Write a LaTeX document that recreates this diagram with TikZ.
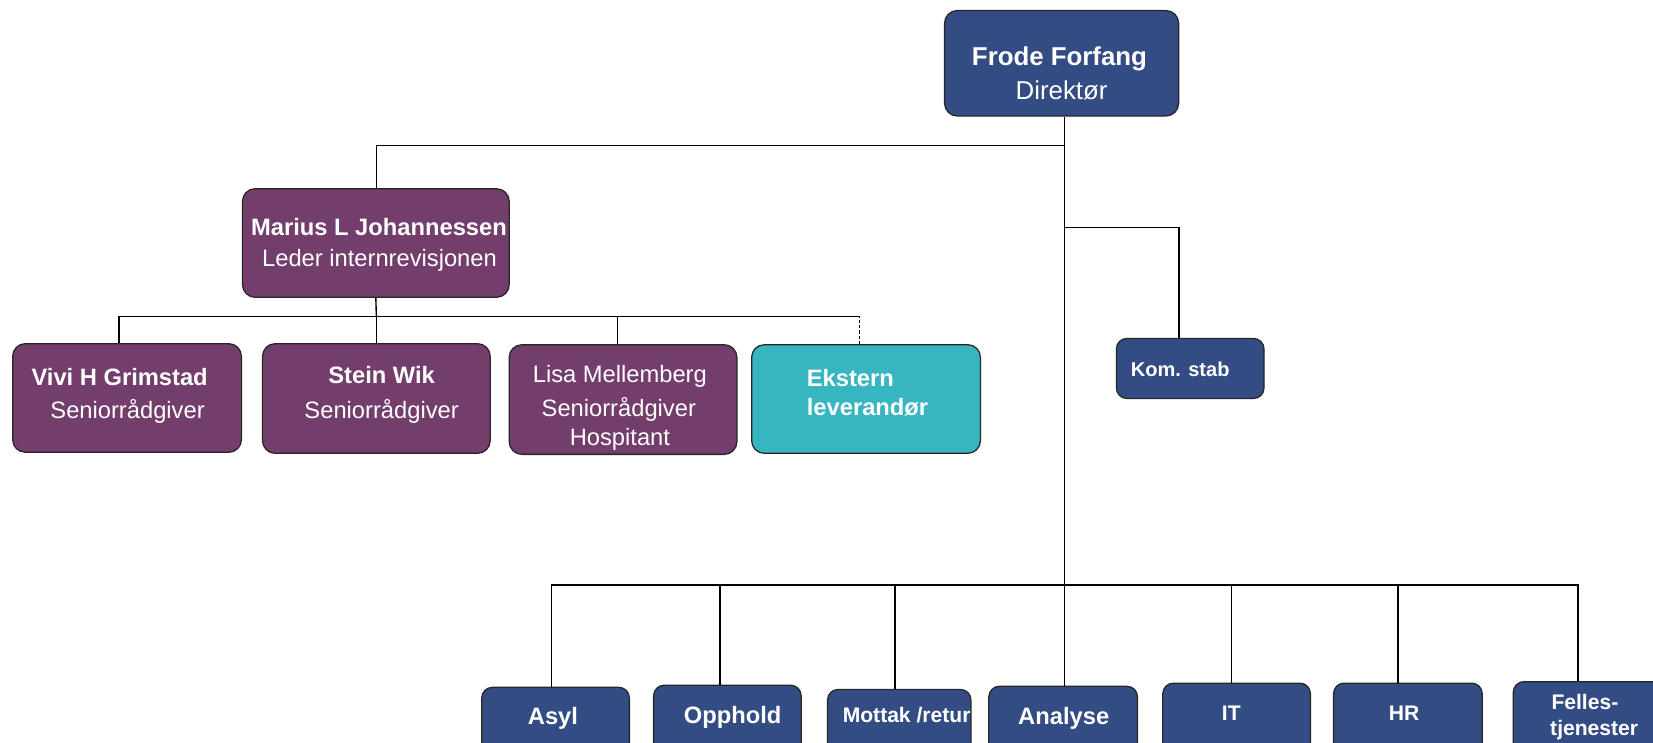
\documentclass[tikz,border=0pt]{standalone}
\usepackage{fontspec}
\setmainfont{Liberation Sans}
\definecolor{nblue}{HTML}{344C84}
\definecolor{npurple}{HTML}{733D6C}
\definecolor{nteal}{HTML}{37B5C1}
\tikzset{
  box/.style={draw=black!85, line width=1.2pt, rounded corners=12pt, inner sep=0pt},
  bbox/.style={box, fill=nblue},
  pbox/.style={box, fill=npurple},
  tbox/.style={box, fill=nteal},
  sbox/.style={bbox, rounded corners=10pt},
  nm/.style={font=\fontsize{22.5}{27}\selectfont\bfseries, text=white, inner sep=0pt, anchor=base},
  rl/.style={font=\fontsize{22.5}{27}\selectfont, text=white, inner sep=0pt, anchor=base},
  sm/.style={font=\fontsize{20}{24}\selectfont\bfseries, text=white, inner sep=0pt, anchor=base},
  conn/.style={line width=1.3pt, black},
}
\begin{document}
\begin{tikzpicture}[x=1pt,y=-1pt]
\useasboundingbox (0,0) rectangle (1568,704);
\clip (0,0) rectangle (1568,704);

% boxes
\node[bbox, minimum width=222pt, minimum height=100pt] (frode) at (1007,60) {};
\node[pbox, minimum width=253pt, minimum height=103pt] (marius) at (356.5,230.5) {};
\node[pbox, minimum width=217pt, minimum height=103pt] (vivi) at (120.5,377.5) {};
\node[pbox, minimum width=216pt, minimum height=104pt] (stein) at (357,378) {};
\node[pbox, minimum width=216pt, minimum height=104pt] (lisa) at (591,379) {};
\node[tbox, minimum width=217pt, minimum height=103pt] (ekstern) at (821.5,378.5) {};
\node[sbox, minimum width=140pt, minimum height=57pt] (kom) at (1129,349.5) {};

\node[sbox, minimum width=140pt, minimum height=110pt] (asyl) at (527,707) {};
\node[sbox, minimum width=140pt, minimum height=110pt] (opphold) at (690,705) {};
\node[sbox, minimum width=136pt, minimum height=110pt] (mottak) at (853,709) {};
\node[sbox, minimum width=141pt, minimum height=110pt] (analyse) at (1008.5,706) {};
\node[sbox, minimum width=140pt, minimum height=110pt] (it) at (1173,703) {};
\node[sbox, minimum width=141pt, minimum height=110pt] (hr) at (1335.5,703) {};
\node[sbox, minimum width=240pt, minimum height=110pt] (felles) at (1555.5,701.6) {};

% texts
\node[nm, font=\fontsize{24.5}{29}\selectfont\bfseries] (frodeA) at (1005,61.7) {Frode Forfang};
\node[rl, font=\fontsize{24.5}{29}\selectfont] (frodeB) at (1007,94.2) {Direktør};
\node[nm] (mariusA) at (359.5,223.6) {Marius L Johannessen};
\node[rl] (mariusB) at (360,253) {Leder internrevisjonen};
\node[nm] (viviA) at (113.5,365.2) {Vivi H Grimstad};
\node[rl] (viviB) at (121,396.8) {Seniorrådgiver};
\node[nm] (steinA) at (362,363.6) {Stein Wik};
\node[rl] (steinB) at (362,396.8) {Seniorrådgiver};
\node[rl] (lisaA) at (588,363) {Lisa Mellemberg};
\node[rl] (lisaB) at (587,395.3) {Seniorrådgiver};
\node[rl] (lisaC) at (588,423) {Hospitant};
\node[nm, anchor=base west] (eksA) at (765.2,366.2) {Ekstern};
\node[nm, anchor=base west] (eksB) at (765.2,393.7) {leverandør};
\node[sm, font=\fontsize{19}{23}\selectfont\bfseries, anchor=base west] (komT) at (1072.5,356.7) {Kom. stab};

\node[nm] (asylT) at (524.5,687) {Asyl};
\node[nm] (oppholdT) at (695,686) {Opphold};
\node[sm] (mottakT) at (860,685.5) {Mottak /retur};
\node[nm] (analyseT) at (1009,687) {Analyse};
\node[sm] (itT) at (1168,683.6) {IT};
\node[sm] (hrT) at (1332,683.6) {HR};
\node[sm, anchor=base west] (fellesA) at (1471.5,672.8) {Felles-};
\node[sm, anchor=base west] (fellesB) at (1470.3,697.2) {tjenester};

% connectors
\coordinate (j1) at (1010,138.2);
\coordinate (j2) at (1010,216);
\coordinate (bus) at (1010,555);
\coordinate (mb) at (357,300);

\draw[conn] ([xshift=3pt]frode.south) -- (bus);
\draw[conn] (j1) -| ([xshift=0.5pt]marius.north);
\draw[conn] (j2) -| ([xshift=-10.5pt]kom.north);

\draw[conn] (marius.south) -- (mb);
\draw[conn] ([xshift=-7.5pt]vivi.north) |- ([xshift=-6.5pt]ekstern.north |- mb);
\draw[conn] (stein.north) -- (stein.north |- mb);
\draw[conn] ([xshift=-5pt]lisa.north) -- ([xshift=-5pt]lisa.north |- mb);
\draw[conn, dash pattern=on 3pt off 2pt] ([xshift=-6.5pt]ekstern.north) -- ([xshift=-6.5pt]ekstern.north |- mb);

\draw[conn] ([xshift=-4pt]asyl.north) |- ([xshift=-58.5pt]felles.north |- bus) -- ([xshift=-58.5pt]felles.north);
\draw[conn] ([xshift=-7pt]opphold.north) -- ([xshift=-7pt]opphold.north |- bus);
\draw[conn] ([xshift=-4pt]mottak.north) -- ([xshift=-4pt]mottak.north |- bus);
\draw[conn] ([xshift=1.5pt]analyse.north) -- ([xshift=1.5pt]analyse.north |- bus);
\draw[conn] ([xshift=-5pt]it.north) -- ([xshift=-5pt]it.north |- bus);
\draw[conn] ([xshift=-9.5pt]hr.north) -- ([xshift=-9.5pt]hr.north |- bus);
\end{tikzpicture}
\end{document}
